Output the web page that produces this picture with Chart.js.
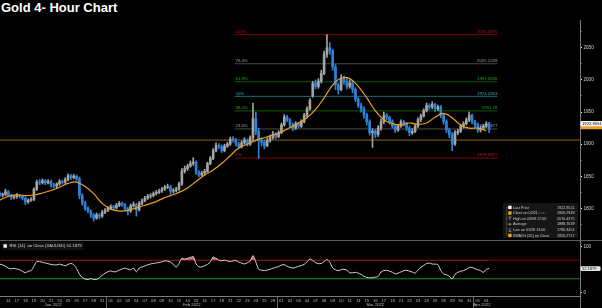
<!DOCTYPE html>
<html><head><meta charset="utf-8">
<script src="https://cdn.jsdelivr.net/npm/chart.js@4.4.1/dist/chart.umd.min.js"></script>
<style>
html,body{margin:0;padding:0;background:#000;width:602px;height:308px;overflow:hidden}
#title{position:absolute;left:1px;top:0px;font:bold 13px "Liberation Sans",Arial,sans-serif;color:#fff;line-height:15px;white-space:nowrap}
canvas{position:absolute;left:0}
</style></head><body>
<div id="title">Gold 4- Hour Chart</div>
<canvas id="main" width="602" height="246" style="top:0px"></canvas>
<canvas id="rsi" width="602" height="68" style="top:240px"></canvas>
<script>
// ---------- DATA ----------
const dates = ['2022-01-13','2022-01-14','2022-01-17','2022-01-18','2022-01-19','2022-01-20','2022-01-21','2022-01-24','2022-01-25','2022-01-26','2022-01-27','2022-01-28','2022-01-31',
'2022-02-01','2022-02-02','2022-02-03','2022-02-04','2022-02-07','2022-02-08','2022-02-09','2022-02-10','2022-02-11','2022-02-14','2022-02-15','2022-02-16','2022-02-17','2022-02-18','2022-02-21','2022-02-22','2022-02-23','2022-02-24','2022-02-25','2022-02-28',
'2022-03-01','2022-03-02','2022-03-03','2022-03-04','2022-03-07','2022-03-08','2022-03-09','2022-03-10','2022-03-11','2022-03-14','2022-03-15','2022-03-16','2022-03-17','2022-03-18','2022-03-21','2022-03-22','2022-03-23','2022-03-24','2022-03-25','2022-03-28','2022-03-29','2022-03-30','2022-03-31',
'2022-04-01','2022-04-04'];
const monthNames = ['Jan 2022','Feb 2022','Mar 2022','Apr 2022'];

// three bars per trading day
const opens = [1822,1824,1821, 1822,1826,1820, 1817,1818,1820, 1819,1816,1810, 1813,1814,1830, 1841,1840,1843, 1840,1842,1836, 1835,1838,1842, 1841,1845,1851, 1848,1850,1846, 1820,1808,1800, 1796,1790,1785, 1790,1788,1794,
1797,1800,1803, 1801,1805,1808, 1806,1800,1796, 1804,1806,1798, 1808,1812,1816, 1819,1820,1823, 1825,1827,1830, 1833,1834,1827, 1828,1830,1838, 1858,1862,1866, 1870,1872,1856, 1852,1855,1858, 1870,1878,1890, 1898,1896,1890, 1897,1900,1908, 1906,1900,1896, 1902,1906,1900, 1910,1940,1920, 1905,1903,1898, 1906,1910,1916,
1912,1918,1930, 1942,1938,1930, 1925,1932,1928, 1935,1945,1955, 1975,1995,1990, 1998,2010,2040, 2050,2045,2020, 1992,1985,2002, 1998,1990,1995, 1985,1970,1960, 1955,1945,1935, 1918,1920,1915, 1925,1935,1945, 1942,1935,1928, 1922,1928,1935, 1932,1925,1918, 1920,1928,1938, 1944,1952,1960, 1958,1962,1955, 1958,1945,1935, 1922,1915,1900, 1918,1920,1928, 1932,1938,1945,
1935,1930,1922, 1925,1928,1932];
const highs = [1827,1826,1824, 1830,1828,1822, 1821,1823,1822, 1821,1818,1815, 1817,1832,1844, 1845,1846,1845, 1845,1844,1839, 1840,1845,1844, 1848,1854,1853, 1853,1852,1849, 1823,1811,1803, 1798,1792,1793, 1792,1797,1800,
1803,1806,1805, 1808,1811,1810, 1808,1802,1807, 1810,1808,1811, 1815,1819,1822, 1823,1826,1828, 1830,1833,1836, 1838,1836,1831, 1833,1841,1862, 1866,1869,1874, 1879,1874,1859, 1858,1861,1872, 1881,1893,1902, 1901,1899,1900, 1903,1911,1912, 1909,1903,1905, 1910,1908,1913, 1964,1950,1925, 1910,1906,1909, 1914,1920,1918,
1921,1933,1946, 1945,1940,1933, 1935,1934,1938, 1948,1958,1971, 1998,2000,2002, 2015,2045,2070.4375, 2058,2048,2024, 1995,2008,2006, 2002,2000,1998, 1988,1973,1964, 1958,1948,1938, 1924,1923,1929, 1939,1950,1948, 1944,1938,1931, 1931,1938,1937, 1934,1928,1924, 1931,1941,1947, 1955,1964,1963, 1966,1964,1961, 1960,1948,1938, 1925,1918,1921, 1923,1931,1935, 1941,1950,1947,
1937,1933,1928, 1931,1935,1934];
const lows = [1819,1818,1818, 1820,1818,1814, 1815,1816,1816, 1813,1806,1808, 1811,1812,1828, 1837,1838,1837, 1838,1833,1832, 1832,1836,1838, 1839,1843,1845, 1846,1843,1815, 1805,1797,1793, 1786,1780.3451,1783, 1784,1786,1792,
1795,1798,1798, 1799,1803,1803, 1797,1790,1794, 1802,1788,1796, 1806,1810,1814, 1816,1818,1821, 1823,1825,1828, 1831,1822,1824, 1826,1828,1836, 1855,1859,1864, 1867,1853,1849, 1850,1852,1856, 1868,1876,1888, 1893,1887,1888, 1895,1898,1903, 1897,1893,1894, 1900,1897,1898, 1906,1915,1878.4351, 1897,1893,1896, 1903,1908,1908,
1910,1916,1928, 1935,1927,1921, 1923,1925,1926, 1933,1942,1953, 1973,1986,1987, 1995,2008,2035, 2040,2015,1985, 1978,1983,1993, 1986,1987,1980, 1966,1957,1950, 1940,1930,1914, 1895,1910,1912, 1922,1932,1938, 1931,1925,1918, 1920,1926,1928, 1921,1913,1915, 1918,1926,1935, 1942,1950,1954, 1955,1951,1952, 1941,1931,1918, 1910,1890,1898, 1915,1918,1925, 1930,1935,1932,
1926,1918,1919, 1923,1926,1918];
const closes = [1824,1821,1822, 1826,1820,1817, 1818,1820,1819, 1816,1810,1813, 1814,1830,1841, 1840,1843,1840, 1842,1836,1835, 1838,1842,1841, 1845,1851,1848, 1850,1846,1820, 1808,1800,1796, 1790,1785,1790, 1788,1794,1797,
1800,1803,1801, 1805,1808,1806, 1800,1796,1804, 1806,1798,1808, 1812,1816,1819, 1820,1823,1825, 1827,1830,1833, 1834,1827,1828, 1830,1838,1858, 1862,1866,1870, 1872,1856,1852, 1855,1858,1870, 1878,1890,1898, 1896,1890,1897, 1900,1908,1906, 1900,1896,1902, 1906,1900,1910, 1940,1920,1905, 1903,1898,1906, 1910,1916,1912,
1918,1930,1942, 1938,1930,1925, 1932,1928,1935, 1945,1955,1968, 1995,1990,1998, 2010,2040,2050, 2045,2020,1992, 1985,2002,1998, 1990,1995,1985, 1970,1960,1955, 1945,1935,1918, 1920,1915,1925, 1935,1945,1942, 1935,1928,1922, 1928,1935,1932, 1925,1918,1920, 1928,1938,1944, 1952,1960,1958, 1962,1955,1958, 1945,1935,1922, 1915,1900,1918, 1920,1928,1932, 1938,1945,1935,
1930,1922,1925, 1928,1932,1922.9551];

// SMAVG(20) on close, one reading per trading day
const smaValues = [1813,1819,1821,1820,1821,1824,1828,1833,1839,1841,1834,1823,1808,
1799,1796,1797,1801,1805,1809,1815,1820,1825,1832,1842,1852,1860,1870,1882,1894,1900,1906,1910,1914,
1919,1926,1933,1941,1954,1972,1992,2003,2002,1990,1972,1952,1938,1932,1930,1933,1931,1933,1942,1948,1941,1930,1925,
1925,1921];

// RSI(14), three readings per trading day
const rsiValues = [62,61.6,60, 57,53,51.5, 52.5,51,49.5, 46,43,46, 47.5,57,67, 67,65.5,64, 62.5,61,60, 60,61.5,60, 58,61,63, 60.5,52,40, 32.5,29.5,28.5, 30.5,28.5,28.5, 32.5,37.5,42,
45,47,45, 45.5,48.5,51, 53,51,49.5, 53,45,53, 55.5,58,60, 62,63,64.3, 65,66.5,68.5, 68,66,61, 55,63,74, 72.5,74,76, 78,62,56, 55.5,58,61, 66,77,74, 70,69,70, 68.5,67,68.5, 69.5,66,64, 62,64.5,68.5, 80,66,50.5, 48.5,47.8,48.6, 50.5,52.8,54.5,
56.3,59.7,60.5, 57,54.5,53.2, 54.6,57,58.7, 61,66.5,72.5, 69.5,64.8,62.7, 63,67.2,71.3, 66,53.3,49.3, 47.5,49.5,50.5, 48.6,43,42.8, 43.9,42,39.5, 35.5,33,32.2, 32.7,33.5,35, 44.6,47.6,48.3, 46.5,44,40.7, 42.2,44.7,47.3, 48.3,46.5,44.6, 42.2,48.9,55, 58.6,63,63.8, 61.8,61.6,60.5, 48.2,40.5,38.5, 35.5,29.5,39.5, 44,46.2,47.8, 50.3,54.5,54.5,
51.6,49.5,47.5, 44,50.5,52.1879];

const priceTicks = [1800,1850,1900,1950,2000,2050];
const rsiTicks = [0,100];
const rsiBands = [70,30];

const fibNames  = ['100%','76.4%','61.8%','50%','38.2%','23.6%','0%'];
const fibLevels = [2070.4375,2025.1249,1997.0926,1974.4363,1951.78,1923.7477,1878.4351];
const fibStartDate = '2022-02-22';
const closeRefLevel = 1906.2949;   // Close on 02/21

const legendNames  = ['Last Price','Close on 02/21','High on 03/08 17:00','Average','Low on 01/28 13:00','SMAVG (20) on Close'];
const legendValues = ['1922.9551','1906.2949','2070.4375','1888.7639','1780.3451','1920.2717'];
const lastPrice = 1922.9551, lastSma = 1920.2717, lastRsi = 52.1879;
const rsiLegend = 'RSI (14)  on Close (XAUUSD) 52.1879';

// ---------- view settings ----------
const X_MIN = 0.526, X_MAX = 68.48, FIB_END = 58.8;
const FONT = '"Liberation Sans", Arial, sans-serif';
Chart.defaults.font.family = FONT;

const PER_DAY = 3;
const barX = j => Math.floor(j / PER_DAY) + ((j % PER_DAY) + 0.5) / PER_DAY;
const upCol = '#a4a4a4', dnCol = '#2f82dc';
const candleCols = closes.map((c, j) => c >= opens[j] ? upCol : dnCol);
const wickData = closes.map((c, j) => ({x: barX(j), y: [lows[j], highs[j]]}));
const bodyData = closes.map((c, j) => {
  const lo = Math.min(opens[j], c), hi = Math.max(opens[j], c);
  return {x: barX(j), y: [lo, hi === lo ? hi + 0.6 : hi]};
});
const smaData = smaValues.map((v, i) => ({x: i + 0.5, y: v}));
const rsiData = rsiValues.map((v, j) => ({x: barX(j), y: v}));
const fibStart = dates.indexOf(fibStartDate);

const fibLine = ['#7e0000','#4a4a4a','#0d5a0d','#0b7378','#0d5a0d','#4a4a4a','#7e0000'];
const fibText = ['#c21a1a','#a0a0a0','#1fae1f','#1cb8c0','#1fae1f','#a0a0a0','#c21a1a'];

const fibDatasets = fibLevels.map((lv, k) => ({
  type: 'line', data: [{x: fibStart, y: lv}, {x: FIB_END, y: lv}],
  borderColor: fibLine[k], borderWidth: 1, pointRadius: 0, order: 10
}));

const mainDecor = {
  id: 'mainDecor',
  beforeDatasetsDraw(chart) {
    const {ctx} = chart, xs = chart.scales.x, ys = chart.scales.y;
    ctx.save();
    ctx.font = '4.3px ' + FONT;
    ctx.textBaseline = 'alphabetic';
    fibLevels.forEach((lv, k) => {
      const y = ys.getPixelForValue(lv);
      ctx.fillStyle = fibText[k];
      ctx.textAlign = 'left';
      ctx.fillText(fibNames[k], xs.getPixelForValue(fibStart) + 1, y - 1.6);
      ctx.textAlign = 'right';
      ctx.fillText(String(lv), xs.getPixelForValue(FIB_END), y - 1.6);
    });
    ctx.restore();
  },
  afterDraw(chart) {
    const {ctx} = chart, ys = chart.scales.y;
    ctx.save();
    // value boxes on the price axis
    const yS = ys.getPixelForValue(lastSma) - 4.6;
    ctx.fillStyle = '#f0a020';
    ctx.fillRect(580.5, yS - 2.7, 22, 5.4);
    const yP = ys.getPixelForValue(lastPrice) - 5.8;
    ctx.fillStyle = '#f4f4f4';
    ctx.beginPath(); ctx.roundRect(580.5, yP - 2.7, 22, 5.4, 1); ctx.fill();
    ctx.fillStyle = '#000'; ctx.font = '4.2px ' + FONT; ctx.textAlign = 'left'; ctx.textBaseline = 'middle';
    ctx.fillText(legendValues[0], 582, yP + 0.2);
    // legend box
    const bx = 503, by = 203, bw = 75, bh = 35;
    ctx.fillStyle = '#161616'; ctx.fillRect(bx, by, bw, bh);
    ctx.font = '3.7px ' + FONT; ctx.textBaseline = 'middle';
    ctx.strokeStyle = '#5a5a5a'; ctx.lineWidth = 0.5;
    ctx.beginPath(); ctx.moveTo(506.5, 207); ctx.lineTo(506.5, 235.5); ctx.stroke();
    legendNames.forEach((name, r) => {
      const y = 207.4 + r * 5.6;
      const ix = 508.2;
      ctx.strokeStyle = '#5a5a5a'; ctx.lineWidth = 0.5;
      ctx.beginPath(); ctx.moveTo(506.5, y); ctx.lineTo(508, y); ctx.stroke();
      if (r === 0 || r === 1 || r === 5) {
        ctx.fillStyle = r === 0 ? '#ffffff' : '#f0a020';
        ctx.fillRect(ix, y - 1.7, 3.4, 3.4);
      } else {
        ctx.strokeStyle = '#c8c8c8'; ctx.lineWidth = 0.6;
        ctx.beginPath();
        if (r === 2) { ctx.moveTo(ix + 0.3, y - 1.5); ctx.lineTo(ix + 3.1, y - 1.5); ctx.moveTo(ix + 1.7, y - 1.5); ctx.lineTo(ix + 1.7, y + 1.7); }
        if (r === 3) { ctx.moveTo(ix, y); ctx.lineTo(ix + 3.4, y); ctx.moveTo(ix + 1.7, y - 1.2); ctx.lineTo(ix + 1.7, y + 1.2); }
        if (r === 4) { ctx.moveTo(ix + 0.3, y + 1.5); ctx.lineTo(ix + 3.1, y + 1.5); ctx.moveTo(ix + 1.7, y + 1.5); ctx.lineTo(ix + 1.7, y - 1.7); }
        ctx.stroke();
      }
      ctx.fillStyle = '#cfcfcf'; ctx.textAlign = 'left';
      ctx.fillText(name, 513, y + 0.2);
      if (r === 1) {
        const w = ctx.measureText(name).width;
        ctx.strokeStyle = '#cfcfcf'; ctx.lineWidth = 0.5; ctx.setLineDash([1.2, 0.8]);
        ctx.beginPath(); ctx.moveTo(514 + w, y); ctx.lineTo(521 + w, y); ctx.stroke();
        ctx.setLineDash([]);
      }
      ctx.textAlign = 'right';
      ctx.fillText(legendValues[r], 574.5, y + 0.2);
    });
    ctx.restore();
  }
};

new Chart(document.getElementById('main'), {
  type: 'bar',
  data: {
    datasets: [
      ...fibDatasets,
      {type: 'line', data: [{x: X_MIN, y: closeRefLevel}, {x: X_MAX, y: closeRefLevel}], borderColor: '#7a4a0e', borderWidth: 1.3, pointRadius: 0, order: 9},
      {type: 'bar', data: wickData, backgroundColor: candleCols, barThickness: 1, grouped: false, order: 5},
      {type: 'bar', data: bodyData, backgroundColor: candleCols, barThickness: 2, grouped: false, order: 4},
      {type: 'line', data: smaData, borderColor: '#eea020', borderWidth: 1.2, pointRadius: 0, tension: 0.4, order: 1}
    ]
  },
  options: {
    responsive: false, animation: false, devicePixelRatio: 1, events: [],
    layout: {padding: {top: 20, bottom: 7, left: 0, right: 0}},
    plugins: {legend: {display: false}, tooltip: {enabled: false}},
    scales: {
      x: {type: 'linear', min: X_MIN, max: X_MAX, display: false, offset: false},
      y: {
        type: 'linear', position: 'right', min: 1752.5, max: 2093.2,
        afterFit(s) { s.width = 22; },
        afterBuildTicks(s) { const t = []; for (let v = 1775; v <= 2075; v += 25) t.push({value: v}); s.ticks = t; },
        ticks: {autoSkip: false, padding: 1.5, color: '#d4d4d4', font: {size: 4.6}, callback: v => priceTicks.includes(v) ? String(v) : ''},
        grid: {drawOnChartArea: false, drawTicks: true, tickLength: 2, lineWidth: 1,
               color: c => (c.tick && priceTicks.includes(c.tick.value)) ? '#e6e6e6' : '#6a6a6a'},
        border: {display: true, color: '#7a7a7a', width: 1}
      }
    }
  },
  plugins: [mainDecor]
});

// ---------- RSI panel ----------
const dayLabel = v => { const d = dates[Math.floor(v)]; return d ? d.slice(8) : ''; };
const monthOf = d => parseInt(d.slice(5, 7), 10);

const rsiDecor = {
  id: 'rsiDecor',
  afterDraw(chart) {
    const {ctx, chartArea} = chart, xs = chart.scales.x, ys = chart.scales.y;
    ctx.save();
    // separator between panels
    ctx.strokeStyle = '#5c5c5c'; ctx.lineWidth = 1;
    ctx.beginPath(); ctx.moveTo(0, 0.5); ctx.lineTo(602, 0.5); ctx.stroke();
    // axis line full height
    ctx.strokeStyle = '#7a7a7a';
    ctx.beginPath(); ctx.moveTo(580.5, 0); ctx.lineTo(580.5, 68); ctx.stroke();
    // month separators and labels
    const months = [];
    dates.forEach((d, i) => {
      const m = monthOf(d);
      if (!months.length || months[months.length - 1].m !== m) months.push({m, start: i, end: i + 1});
      else months[months.length - 1].end = i + 1;
    });
    ctx.font = '4.2px ' + FONT; ctx.fillStyle = '#bdbdbd'; ctx.textAlign = 'center'; ctx.textBaseline = 'middle';
    ctx.strokeStyle = '#6a6a6a'; ctx.lineWidth = 1;
    months.forEach((mo, k) => {
      if (k > 0) {
        const px = Math.round(xs.getPixelForValue(mo.start)) + 0.5;
        ctx.beginPath(); ctx.moveTo(px, chartArea.bottom); ctx.lineTo(px, 68); ctx.stroke();
      }
      const a = Math.max(mo.start, X_MIN), b = mo.end;
      ctx.fillText(monthNames[mo.m - 1], xs.getPixelForValue((a + b) / 2), 64.8);
    });
    // legend
    ctx.fillStyle = '#111'; ctx.fillRect(2, 2, 82, 8);
    ctx.fillStyle = '#fff'; ctx.fillRect(3.5, 4.3, 3.4, 3.4);
    ctx.fillStyle = '#d8d8d8'; ctx.textAlign = 'left'; ctx.font = '4.2px ' + FONT;
    ctx.fillText(rsiLegend, 9.5, 6.2);
    // value box
    const yv = ys.getPixelForValue(lastRsi);
    ctx.fillStyle = '#e8e8e8';
    ctx.beginPath(); ctx.roundRect(580.5, yv - 2.3, 20, 4.8, 1); ctx.fill();
    ctx.fillStyle = '#000'; ctx.font = '4px ' + FONT;
    ctx.fillText(lastRsi.toFixed(4), 582, yv + 0.2);
    ctx.restore();
  }
};

new Chart(document.getElementById('rsi'), {
  type: 'line',
  data: {
    datasets: [
      {data: rsiData, borderColor: 'rgba(0,0,0,0)', borderWidth: 0, pointRadius: 0, tension: 0.25,
       fill: {target: {value: rsiBands[1]}, above: 'rgba(0,0,0,0)', below: 'rgba(95,175,95,0.9)'}, order: 3},
      {data: [{x: X_MIN, y: rsiBands[0]}, {x: X_MAX, y: rsiBands[0]}], borderColor: '#8c0000', borderWidth: 1, pointRadius: 0, order: 2},
      {data: [{x: X_MIN, y: rsiBands[1]}, {x: X_MAX, y: rsiBands[1]}], borderColor: '#0a8c0a', borderWidth: 1, pointRadius: 0, order: 2},
      {data: rsiData, borderColor: '#d6d6d6', borderWidth: 1, pointRadius: 0, tension: 0.25,
       fill: {target: {value: rsiBands[0]}, above: 'rgba(210,110,100,0.9)', below: 'rgba(0,0,0,0)'}, order: 0}
    ]
  },
  options: {
    responsive: false, animation: false, devicePixelRatio: 1, events: [],
    layout: {padding: {top: 3, bottom: 0, left: 0, right: 0}},
    plugins: {legend: {display: false}, tooltip: {enabled: false}},
    scales: {
      x: {
        type: 'linear', min: X_MIN, max: X_MAX, offset: false, position: 'bottom',
        afterFit(s) { s.height = 11.3; },
        afterBuildTicks(s) { s.ticks = dates.map((d, i) => ({value: i + 0.5})).filter(t => t.value >= X_MIN && t.value <= X_MAX); },
        ticks: {autoSkip: false, maxRotation: 0, minRotation: 0, padding: 1.4, color: '#bdbdbd', font: {size: 4.2}, callback: v => dayLabel(v)},
        grid: {display: false, drawTicks: false},
        border: {display: true, color: '#7a7a7a', width: 1}
      },
      y: {
        type: 'linear', position: 'right', min: -8.6, max: 104.4,
        afterFit(s) { s.width = 22; },
        afterBuildTicks(s) { s.ticks = rsiTicks.map(v => ({value: v})); },
        ticks: {autoSkip: false, padding: 1.5, color: '#d4d4d4', font: {size: 4.6}},
        grid: {drawOnChartArea: false, drawTicks: true, tickLength: 2, color: '#e6e6e6'},
        border: {display: true, color: '#7a7a7a', width: 1}
      }
    }
  },
  plugins: [rsiDecor]
});
</script>
</body></html>
